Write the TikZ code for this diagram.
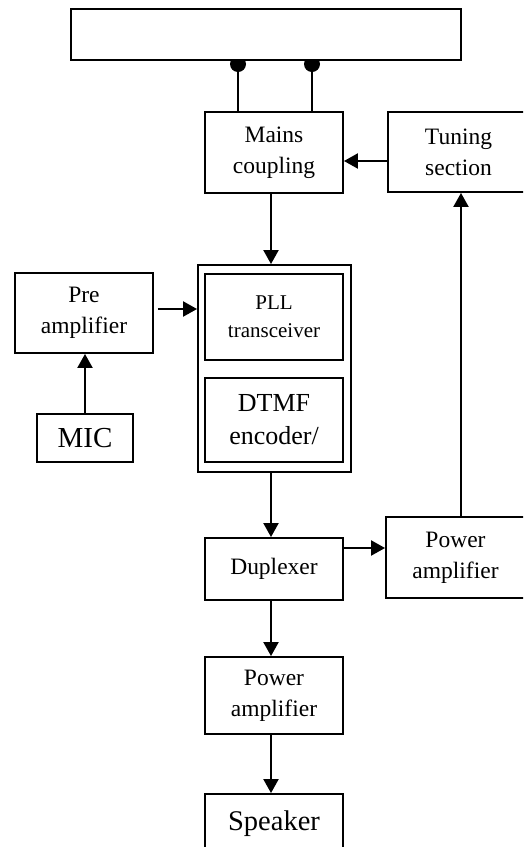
\documentclass[tikz,border=0pt]{standalone}
\usepackage{fontspec}
\setmainfont{Liberation Serif}
\usetikzlibrary{arrows.meta}
\begin{document}
\begin{tikzpicture}[x=1pt,y=-1pt,
  box/.style={draw, line width=1.9pt, inner sep=0pt, align=center, fill=white,
    font=\fontsize{23.5}{31}\selectfont},
  arr/.style={line width=2.2pt, -{Triangle[length=14pt,width=15pt]}},
  ln/.style={line width=1.9pt},
  dot/.style={circle, fill=black, draw=none, inner sep=0pt, minimum size=16pt}]
\clip (0,0) rectangle (523,847);
% connector dots below the top bar
\node[dot] (d1) at (238,64) {};
\node[dot] (d2) at (312,64) {};
% boxes
\node[box, minimum width=390pt, minimum height=51pt] (bar) at (266,34.5) {};
\node[box, minimum width=138pt, minimum height=81pt] (mains) at (274,152.5) {Mains\\coupling};
\node[box, minimum width=141pt, minimum height=80pt] (tuning) at (458.5,152) {Tuning\\section};
\node[box, minimum width=138pt, minimum height=80pt] (pre) at (84,313) {Pre\\amplifier};
\node[box, minimum width=96pt, minimum height=48pt, font=\fontsize{29}{34}\selectfont] (mic) at (85,438) {MIC};
\node[box, minimum width=153pt, minimum height=207pt] (outer) at (274.5,368.5) {};
\node[box, minimum width=138pt, minimum height=86pt, font=\fontsize{21}{28}\selectfont] (pll) at (274,317) {PLL\\transceiver};
\node[box, minimum width=138pt, minimum height=84pt, font=\fontsize{26}{33}\selectfont] (dtmf) at (274,420) {DTMF\\encoder/};
\node[box, minimum width=138pt, minimum height=62pt] (dup) at (274,569) {Duplexer};
\node[box, minimum width=139pt, minimum height=81pt] (pa1) at (455.5,557.5) {Power\\amplifier};
\node[box, minimum width=138pt, minimum height=77pt] (pa2) at (274,695.5) {Power\\amplifier};
\node[box, minimum width=138pt, minimum height=60pt, font=\fontsize{28.5}{34}\selectfont] (spk) at (274,824) {Speaker};
% helper coordinates
\coordinate (ty) at (0,161);
\coordinate (py) at (0,309);
\coordinate (dy) at (0,548);
\coordinate (vx) at (461,0);
\coordinate (cx) at (271,0);
% connectors
\draw[ln] (d1.center) -- (d1.center |- mains.north);
\draw[ln] (d2.center) -- (d2.center |- mains.north);
\node[box, minimum width=390pt, minimum height=51pt] at (bar) {};
\draw[arr] (tuning.west |- ty) -- (mains.east |- ty);
\draw[arr] (cx |- mains.south) -- (cx |- outer.north);
\draw[arr, shorten <=4pt] (pre.east |- py) -- (outer.west |- py);
\draw[arr] (mic.north) -- (mic.north |- pre.south);
\draw[arr] (cx |- outer.south) -- (cx |- dup.north);
\draw[arr] (dup.east |- dy) -- (pa1.west |- dy);
\draw[arr] (cx |- dup.south) -- (cx |- pa2.north);
\draw[arr] (cx |- pa2.south) -- (cx |- spk.north);
\draw[arr] (vx |- pa1.north) -- (vx |- tuning.south);
\end{tikzpicture}
\end{document}
